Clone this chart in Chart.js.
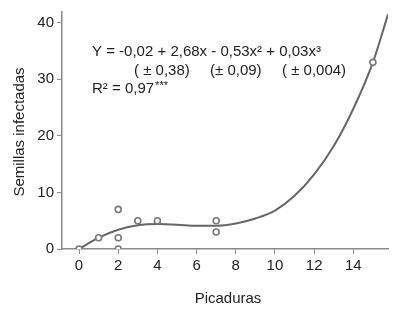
<!DOCTYPE html>
<html>
<head>
<meta charset="utf-8">
<script src="https://cdn.jsdelivr.net/npm/chart.js@4"></script>
<style>
  html, body { margin: 0; padding: 0; background: #fff; }
  #wrap { width: 397px; height: 316px; position: relative; }
</style>
</head>
<body>
<div id="wrap"><canvas id="c" width="397" height="316"></canvas></div>
<script>
// observed points
const obsX = [0, 1, 2, 2, 2, 3, 4, 7, 7, 15];
const obsY = [0, 2, 7, 2, 0, 5, 5, 5, 3, 33];

// fitted curve
const fitX = [0, 1, 2, 3, 4, 5, 6, 7, 8, 9, 10, 11, 12, 13, 14, 15, 15.77];
const fitY = [0, 2.0, 3.4, 4.2, 4.4, 4.3, 4.1, 4.1, 4.5, 5.4, 6.8, 9.4, 13.2, 18.2, 24.8, 33, 41.5];

const xTicks = [0, 2, 4, 6, 8, 10, 12, 14];
const yTicks = [0, 10, 20, 30, 40];

const AXIS = '#8a8a8a';
const TEXT = '#222';
const FONT = 'Liberation Sans, Arial, sans-serif';

const labels = {
  id: 'labels',
  afterDraw(chart) {
    const ctx = chart.ctx;
    ctx.save();
    ctx.fillStyle = TEXT;
    ctx.textBaseline = 'middle';
    ctx.font = '15px ' + FONT;
    ctx.textAlign = 'left';
    ctx.fillText('Y = -0,02 + 2,68x - 0,53x² + 0,03x³', 92, 52);
    ctx.fillText('( ± 0,38)', 134, 71);
    ctx.fillText('(± 0,09)', 210, 71);
    ctx.fillText('( ± 0,004)', 282, 71);
    ctx.fillText('R² = 0,97', 92, 89);
    const w = ctx.measureText('R² = 0,97').width;
    ctx.font = '11px ' + FONT;
    ctx.fillText('***', 92 + w + 1, 86);

    ctx.font = '15px ' + FONT;
    ctx.textAlign = 'center';
    ctx.fillText('Picaduras', 228, 299);
    ctx.translate(20, 132);
    ctx.rotate(-Math.PI / 2);
    ctx.fillText('Semillas infectadas', 0, 0);
    ctx.restore();
  }
};

new Chart(document.getElementById('c'), {
  type: 'scatter',
  data: {
    datasets: [
      {
        data: obsX.map((x, i) => ({ x, y: obsY[i] })),
        pointRadius: 3,
        pointBorderWidth: 1.6,
        pointBorderColor: '#777',
        pointBackgroundColor: '#fff',
        order: 0
      },
      {
        data: fitX.map((x, i) => ({ x, y: fitY[i] })),
        showLine: true,
        pointRadius: 0,
        borderColor: '#666',
        borderWidth: 2,
        cubicInterpolationMode: 'monotone',
        order: 1
      }
    ]
  },
  options: {
    responsive: false,
    animation: false,
    layout: { padding: { left: 0, top: 8, right: 9, bottom: 0 } },
    plugins: { legend: { display: false }, tooltip: { enabled: false } },
    scales: {
      x: {
        type: 'linear', min: -0.87, max: 15.77,
        afterBuildTicks: s => { s.ticks = xTicks.map(v => ({ value: v })); },
        afterFit: s => { s.height = 67; },
        grid: { drawOnChartArea: false, drawTicks: true, tickLength: 5, color: AXIS },
        border: { display: true, color: AXIS, width: 1.5 },
        ticks: { color: TEXT, font: { size: 15, family: FONT }, padding: 3, maxRotation: 0 }
      },
      y: {
        type: 'linear', min: 0, max: 41.9,
        afterBuildTicks: s => { s.ticks = yTicks.map(v => ({ value: v })); },
        afterFit: s => { s.width = 62; },
        grid: { drawOnChartArea: false, drawTicks: true, tickLength: 5, color: AXIS },
        border: { display: true, color: AXIS, width: 1.5 },
        ticks: { color: TEXT, font: { size: 15, family: FONT }, padding: 3 }
      }
    }
  },
  plugins: [labels]
});
</script>
</body>
</html>
